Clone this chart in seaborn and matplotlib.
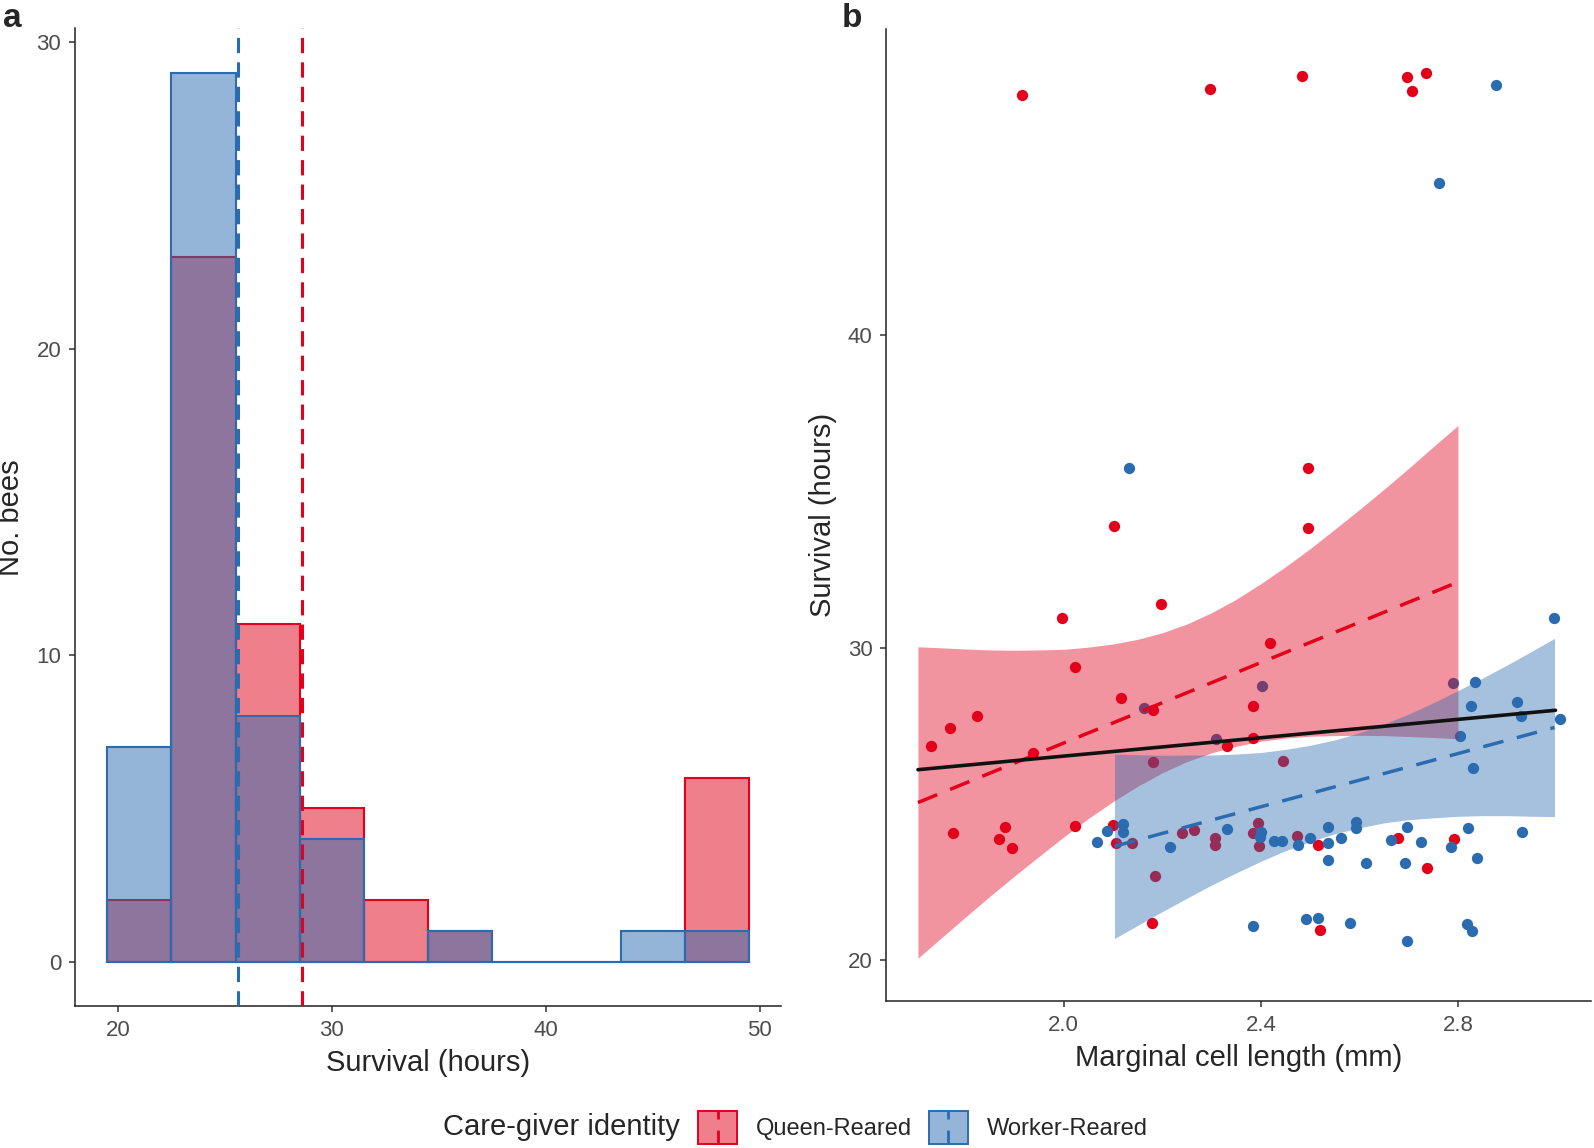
import matplotlib
matplotlib.use("Agg")
import matplotlib.pyplot as plt
import seaborn as sns
from matplotlib.colors import to_rgba
from matplotlib.patches import Rectangle, Patch
from matplotlib.lines import Line2D
from matplotlib.legend_handler import HandlerBase

RED = "#E2001A"
BLUE = "#2B6CB0"

# --- panel a: survival histogram (3 h bins) ---
bin_edges = [19.5, 22.5, 25.5, 28.5, 31.5, 34.5, 37.5, 40.5, 43.5, 46.5, 49.5]
bin_centres = [21, 24, 27, 30, 33, 36, 39, 42, 45, 48]
queen_counts = [2, 23, 11, 5, 2, 1, 0, 0, 0, 6]
worker_counts = [7, 29, 8, 4, 0, 1, 0, 0, 1, 1]
queen_mean = 28.6
worker_mean = 25.6

# --- panel b: survival vs marginal cell length ---
queen_len = [1.916, 2.296, 2.483, 2.696, 2.735, 2.706, 2.496, 2.102, 2.496, 1.997,
             2.197, 2.419, 2.023, 2.117, 2.384, 1.823, 2.181, 1.769, 1.731, 1.938,
             2.331, 2.384, 2.181, 2.445, 2.180, 2.521, 1.776, 1.881, 1.869, 1.894,
             2.023, 2.100, 2.105, 2.139, 2.239, 2.264, 2.307, 2.307, 2.395, 2.384,
             2.397, 2.473, 2.515, 2.679, 2.738, 2.793, 2.186]
queen_surv = [47.67, 47.87, 48.30, 48.27, 48.37, 47.82, 35.75, 33.91, 33.83, 30.96,
              31.40, 30.16, 29.39, 28.39, 28.15, 27.83, 28.02, 27.43, 26.87, 26.64,
              26.85, 27.11, 26.34, 26.37, 21.20, 20.98, 24.06, 24.27, 23.88, 23.61,
              24.30, 24.32, 23.77, 23.74, 24.09, 24.17, 23.93, 23.68, 24.39, 24.06,
              23.66, 23.98, 23.68, 23.90, 22.94, 23.88, 22.69]

worker_len = [2.877, 2.761, 2.132, 2.994, 2.402, 2.789, 2.834, 2.163, 2.826, 2.920,
              2.309, 2.928, 3.007, 2.805, 2.830, 2.384, 2.492, 2.515, 2.581, 2.697,
              2.819, 2.828, 2.068, 2.087, 2.121, 2.121, 2.215, 2.331, 2.400, 2.398,
              2.426, 2.443, 2.476, 2.500, 2.536, 2.537, 2.562, 2.537, 2.594, 2.594,
              2.613, 2.664, 2.696, 2.693, 2.724, 2.786, 2.820, 2.838, 2.930]
worker_surv = [48.00, 44.85, 35.75, 30.96, 28.79, 28.87, 28.92, 28.07, 28.15, 28.28,
               27.09, 27.83, 27.72, 27.19, 26.16, 21.10, 21.31, 21.36, 21.20, 20.62,
               21.15, 20.94, 23.80, 24.14, 24.35, 24.10, 23.63, 24.20, 24.10, 23.95,
               23.82, 23.82, 23.68, 23.93, 24.28, 23.75, 23.90, 23.21, 24.43, 24.25,
               23.13, 23.85, 24.27, 23.11, 23.79, 23.63, 24.22, 23.29, 24.12]

# fitted lines and 95% bands
queen_line_x = [1.704, 2.800]
queen_line_y = [25.05, 32.10]
worker_line_x = [2.103, 2.996]
worker_line_y = [23.65, 27.45]
overall_line_x = [1.704, 2.998]
overall_line_y = [26.10, 28.00]

queen_band_x = [1.704, 1.75, 1.8, 1.85, 1.9, 1.95, 2.0, 2.05, 2.1, 2.15, 2.2, 2.25,
                2.3, 2.35, 2.4, 2.45, 2.5, 2.55, 2.6, 2.65, 2.7, 2.75, 2.8]
queen_band_lo = [20.07, 20.70, 21.38, 22.05, 22.70, 23.33, 23.95, 24.54, 25.08, 25.57,
                 26.00, 26.36, 26.64, 26.85, 27.01, 27.11, 27.17, 27.19, 27.20, 27.19,
                 27.16, 27.13, 27.09]
queen_band_hi = [30.03, 30.00, 29.96, 29.93, 29.92, 29.93, 29.95, 30.02, 30.12, 30.27,
                 30.48, 30.76, 31.12, 31.55, 32.05, 32.59, 33.17, 33.79, 34.42, 35.07,
                 35.74, 36.43, 37.11]
worker_band_x = [2.103, 2.15, 2.2, 2.25, 2.3, 2.35, 2.4, 2.45, 2.5, 2.55, 2.6, 2.65,
                 2.7, 2.75, 2.8, 2.85, 2.9, 2.95, 2.996]
worker_band_lo = [20.70, 21.12, 21.56, 21.99, 22.41, 22.80, 23.17, 23.51, 23.80, 24.05,
                  24.24, 24.40, 24.50, 24.56, 24.61, 24.63, 24.63, 24.61, 24.60]
worker_band_hi = [26.60, 26.58, 26.56, 26.57, 26.57, 26.60, 26.65, 26.75, 26.88, 27.05,
                  27.28, 27.56, 27.88, 28.24, 28.63, 29.03, 29.45, 29.89, 30.30]


class BoxVlineHandler(HandlerBase):
    """Legend key: filled box with a dashed vertical line through it."""

    def create_artists(self, legend, orig_handle, xdescent, ydescent,
                       width, height, fontsize, trans):
        edge = orig_handle.get_edgecolor()
        box = Rectangle((-xdescent, -ydescent), width, height,
                        facecolor=orig_handle.get_facecolor(), edgecolor=edge,
                        linewidth=1.4, transform=trans)
        xm = -xdescent + width / 2
        vline = Line2D([xm, xm], [-ydescent, -ydescent + height], color=edge,
                       linewidth=2, linestyle=(0, (5, 4)), transform=trans)
        return [box, vline]


def style_axis(ax):
    sns.despine(ax=ax)
    for side in ["left", "bottom"]:
        ax.spines[side].set_linewidth(1.1)
        ax.spines[side].set_color("#222222")
    ax.tick_params(length=4, width=1.1, pad=6, color="#333333", labelcolor="#4d4d4d",
                   labelsize=16)


sns.set_style("ticks")
plt.rcParams["font.family"] = ["Liberation Sans", "DejaVu Sans"]

fig = plt.figure(figsize=(15.94, 11.48), dpi=100)

# panel a
ax_a = fig.add_axes([0.0472, 0.1237, 0.4428, 0.8515])
sns.histplot(x=bin_centres, weights=queen_counts, bins=bin_edges, color=RED, alpha=0.5,
             edgecolor=RED, linewidth=1.5, ax=ax_a)
sns.histplot(x=bin_centres, weights=worker_counts, bins=bin_edges, color=BLUE, alpha=0.5,
             edgecolor=BLUE, linewidth=1.5, ax=ax_a)
ax_a.axvline(worker_mean, color=BLUE, linewidth=2.2, linestyle=(0, (5, 3)), zorder=5)
ax_a.axvline(queen_mean, color=RED, linewidth=2.2, linestyle=(0, (5, 3)), zorder=5)
ax_a.set_xlim(18.0, 51.0)
ax_a.set_ylim(-1.45, 30.45)
ax_a.set_xticks([20, 30, 40, 50])
ax_a.set_yticks([0, 10, 20, 30])
ax_a.set_xlabel("Survival (hours)", fontsize=21, labelpad=6)
ax_a.set_ylabel("No. bees", fontsize=21, labelpad=8)
style_axis(ax_a)

# panel b
ax_b = fig.add_axes([0.5561, 0.128, 0.442, 0.847])
sns.scatterplot(x=queen_len, y=queen_surv, color=RED, s=66, linewidth=0, ax=ax_b, zorder=1)
sns.scatterplot(x=worker_len, y=worker_surv, color=BLUE, s=66, linewidth=0, ax=ax_b, zorder=1)
ax_b.fill_between(queen_band_x, queen_band_lo, queen_band_hi, color=RED, alpha=0.42,
                  linewidth=0, zorder=2)
ax_b.fill_between(worker_band_x, worker_band_lo, worker_band_hi, color=BLUE, alpha=0.42,
                  linewidth=0, zorder=2)
ax_b.plot(queen_line_x, queen_line_y, color=RED, linewidth=2.5, linestyle=(0, (6, 4)), zorder=3)
ax_b.plot(worker_line_x, worker_line_y, color=BLUE, linewidth=2.5, linestyle=(0, (6, 4)), zorder=3)
ax_b.plot(overall_line_x, overall_line_y, color="#111111", linewidth=2.6, zorder=4)
ax_b.set_xlim(1.64, 3.07)
ax_b.set_ylim(18.7, 49.8)
ax_b.set_xticks([2.0, 2.4, 2.8])
ax_b.set_xticklabels(["2.0", "2.4", "2.8"])
ax_b.set_yticks([20, 30, 40])
ax_b.set_xlabel("Marginal cell length (mm)", fontsize=21, labelpad=6)
ax_b.set_ylabel("Survival (hours)", fontsize=21, labelpad=8)
style_axis(ax_b)

fig.text(0.0075, 0.984, "a", fontsize=24, fontweight="bold", ha="center", va="center")
fig.text(0.5345, 0.984, "b", fontsize=24, fontweight="bold", ha="center", va="center")

# legend along the bottom
handles = [Patch(facecolor=to_rgba(RED, 0.5), edgecolor=RED),
           Patch(facecolor=to_rgba(BLUE, 0.5), edgecolor=BLUE)]
fig.legend(handles, ["Queen-Reared", "Worker-Reared"], loc="center left",
           bbox_to_anchor=(0.438, 0.018), ncol=2, frameon=False,
           handler_map={Patch: BoxVlineHandler()}, handlelength=1.65, handleheight=1.75,
           handletextpad=0.8, columnspacing=0.7, fontsize=17, borderpad=0, borderaxespad=0)
fig.text(0.278, 0.018, "Care-giver identity", fontsize=21, ha="left", va="center")

fig.savefig("out.png", dpi=100)
